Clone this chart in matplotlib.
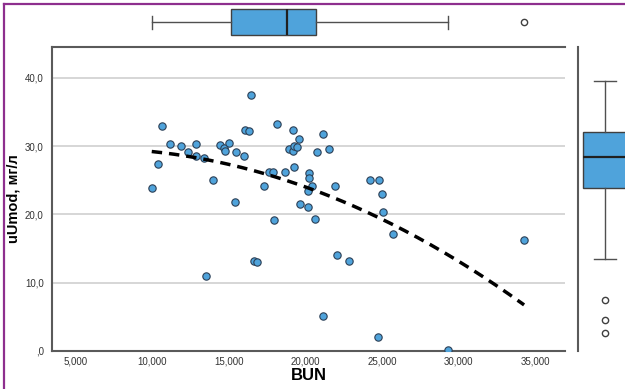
import numpy as np
import matplotlib
matplotlib.use("Agg")
import matplotlib.pyplot as plt
from matplotlib.lines import Line2D
from matplotlib.ticker import FuncFormatter

plt.rcParams['font.family'] = ['Liberation Sans', 'DejaVu Sans']

# Data
bun = [9970, 10380, 10640, 11180, 11860, 12320, 12840, 12840, 13400, 13530,
       13950, 14400, 14690, 14730, 15030, 15420, 15450, 15970, 16030, 16320,
       16470, 16620, 16860, 17320, 17600, 17900, 17950, 18130, 18690, 18950,
       19170, 19210, 19240, 19280, 19430, 19600, 19670, 20150, 20190, 20210,
       20250, 20430, 20610, 20730, 21130, 21150, 21560, 21910, 22060, 22870,
       24200, 24740, 24780, 24990, 25060, 25700, 29290, 34270]
uumod = [23.9, 27.3, 33.0, 30.35, 30.05, 29.1, 30.25, 28.6, 28.25, 11.0,
         25.1, 30.15, 29.7, 29.2, 30.45, 21.8, 29.1, 28.55, 32.35, 32.25,
         37.5, 13.2, 13.0, 24.1, 26.2, 26.2, 19.1, 33.2, 26.2, 29.5,
         29.2, 32.35, 27.0, 29.95, 29.9, 31.05, 21.45, 23.45, 21.05, 26.05,
         25.25, 24.1, 19.35, 29.1, 31.8, 5.05, 29.6, 24.15, 14.05, 13.1,
         25.0, 2.06, 25.0, 23.05, 20.35, 17.15, 0.1, 16.25]
x_ticks = [5000, 10000, 15000, 20000, 25000, 30000, 35000]
y_ticks = [0, 10, 20, 30, 40]

x = np.array(bun, dtype=float)
y = np.array(uumod, dtype=float)

W, H = 625, 389
fig = plt.figure(figsize=(W / 100, H / 100), dpi=100)

def fx(px):
    return px / W

def fy(py):
    return 1 - py / H

blue = '#4fa3db'
edge = '#2b3f55'
spine_c = '#5a5a5a'

xlim = (3460, 36940)
ylim = (-0.01, 44.5)

box_kw = dict(patch_artist=True, manage_ticks=False,
              boxprops=dict(facecolor=blue, edgecolor='#404040', linewidth=1),
              medianprops=dict(color='#202020', linewidth=1.6),
              whiskerprops=dict(color='#505050', linewidth=1),
              capprops=dict(color='#505050', linewidth=1),
              flierprops=dict(marker='o', markersize=4.5, markerfacecolor='white',
                              markeredgecolor='#404040', markeredgewidth=1))

# main axes
ax = fig.add_axes([fx(52), fy(351), fx(565 - 52), (351 - 47) / H])
ax.set_xlim(*xlim)
ax.set_ylim(*ylim)
for s in ['top', 'right']:
    ax.spines[s].set_visible(False)
for s in ['left', 'bottom']:
    ax.spines[s].set_color(spine_c)
    ax.spines[s].set_linewidth(1.5)
ax.set_yticks(y_ticks)
ax.set_xticks(x_ticks)
ax.yaxis.set_major_formatter(FuncFormatter(lambda v, p: (',0' if v == 0 else f'{v:.1f}'.replace('.', ','))))
ax.xaxis.set_major_formatter(FuncFormatter(lambda v, p: f'{int(v):,}'))
ax.tick_params(axis='y', length=0, labelsize=7, labelcolor='#333333', pad=6)
ax.tick_params(axis='x', length=0, labelsize=7, labelcolor='#333333', pad=4)
for t in y_ticks[1:]:
    ax.axhline(t, color='#cfcfcf', lw=1.2, zorder=0)

ax.scatter(x, y, s=28, facecolor=blue, edgecolor=edge, linewidth=0.8, zorder=3)

coef = np.polyfit(x, y, 2)
xs = np.linspace(x.min(), x.max(), 200)
ax.plot(xs, np.polyval(coef, xs), color='black', lw=2.5, dashes=(3.0, 2.0), zorder=4)

ax.set_xlabel('BUN', fontsize=12, fontweight='bold', labelpad=1)
ax.set_ylabel('uUmod, мг/л', fontsize=10.5, fontweight='bold', labelpad=3)

# top boxplot
axt = fig.add_axes([fx(52), fy(47), fx(565 - 52), 47 / H])
axt.set_xlim(*xlim)
axt.set_ylim(0, 1)
axt.boxplot(x, vert=False, positions=[0.53], widths=0.56, whis=1.6, **box_kw)
axt.axis('off')
axt.add_line(Line2D([0, 1], [0, 0], transform=axt.transAxes, color=spine_c, lw=1.5, clip_on=False))

# right boxplot
axr = fig.add_axes([fx(578), fy(351), fx(47), (351 - 47) / H])
axr.set_xlim(0, 1)
axr.set_ylim(-2.56, 42.47)
axr.boxplot(y, vert=True, positions=[0.574], widths=0.94, whis=1.5, **box_kw)
axr.axis('off')
axr.add_line(Line2D([0, 0], [0, 1], transform=axr.transAxes, color=spine_c, lw=1.5, clip_on=False))

# purple frame
purple = '#8e2f8e'
fig.add_artist(Line2D([fx(4), 1], [fy(4), fy(4)], color=purple, lw=1.6))
fig.add_artist(Line2D([fx(4), fx(4)], [fy(4), 0], color=purple, lw=1.6))

fig.savefig('out.png', dpi=100)
